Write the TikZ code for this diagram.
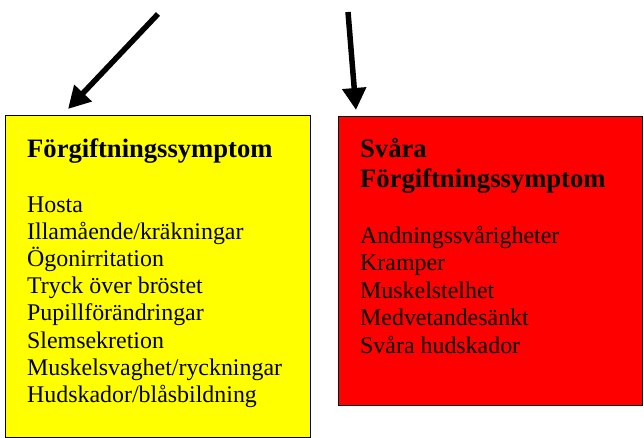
\documentclass[tikz,border=0pt]{standalone}
\usepackage{fontspec}
\setmainfont{Liberation Serif}
\usepackage{tikz}
\usetikzlibrary{arrows.meta, positioning, calc}
\definecolor{mildyellow}{RGB}{255,255,0}
\definecolor{severered}{RGB}{255,0,0}

\begin{document}
\begin{tikzpicture}[
  x=1pt, y=1pt,
  % Symptom boxes
  symbox/.style={
    rectangle, draw=black, line width=1.3pt, anchor=north west,
    inner sep=0pt
  },
  % Box headings
  headtext/.style={
    anchor=base west, inner sep=0pt, font=\fontsize{26.6}{30.6}\selectfont\bfseries
  },
  % Symptom lines
  itemtext/.style={
    anchor=base west, inner sep=0pt, font=\fontsize{23.9}{27.3}\selectfont
  },
  % Pointer arrows
  pointer/.style={
    line width=5.5pt, -{Triangle[length=22pt, width=23pt]}
  }
]
\useasboundingbox (0,0) rectangle (644,-438);

% === BOXES ===
\node[symbox, fill=mildyellow, minimum width=305pt, minimum height=322pt] (mild) at (5,-115) {};
\node[symbox, fill=severered, minimum width=304pt, minimum height=289pt] (severe) at (338,-116) {};

% === YELLOW BOX TEXT ===
\node[headtext] (mildhead) at ($(mild.north west)+(22,-43)$) {Förgiftningssymptom};
\foreach \txt [count=\i] in {Hosta, Illamående/kräkningar, Ögonirritation,
  Tryck över bröstet, Pupillförändringar, Slemsekretion,
  Muskelsvaghet/ryckningar, Hudskador/blåsbildning}
  \node[itemtext] (mild\i) at ($(mildhead.base west)+(0,{-54-27.2*(\i-1)})$) {\txt};

% === RED BOX TEXT ===
\node[headtext] (severehead1) at ($(severe.north west)+(22,-42)$) {Svåra};
\node[headtext] (severehead2) at ($(severehead1.base west)+(0,-30)$) {Förgiftningssymptom};
\foreach \txt [count=\i] in {Andningssvårigheter, Kramper, Muskelstelhet,
  Medvetandesänkt, Svåra hudskador}
  \node[itemtext] (severe\i) at ($(severehead2.base west)+(0,{-55-27.5*(\i-1)})$) {\txt};

% === ARROWS ===
\coordinate (mildtail) at ($(mild.north west)+(153,101)$);
\coordinate (mildtip) at ($(mild.north west)+(63,6)$);
\coordinate (severetail) at ($(severe.north west)+(10,104)$);
\coordinate (severetip) at ($(severe.north west)+(18,6)$);
\draw[pointer] (mildtail) -- (mildtip);
\draw[pointer] (severetail) -- (severetip);

\end{tikzpicture}
\end{document}
